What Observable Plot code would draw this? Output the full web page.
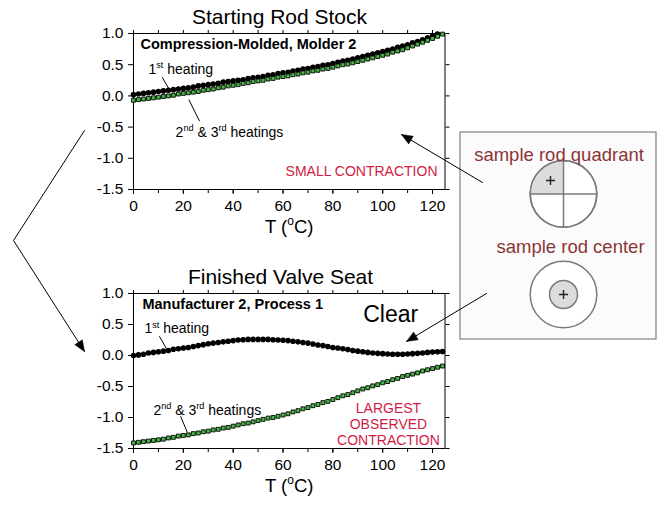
<!DOCTYPE html>
<html><head><meta charset="utf-8">
<script src="https://cdn.jsdelivr.net/npm/d3@7"></script>
<script src="https://cdn.jsdelivr.net/npm/@observablehq/plot@0.6"></script>
<style>
html,body{margin:0;padding:0;background:#fff;}
#wrap{position:relative;width:661px;height:508px;overflow:hidden;background:#fff;}
#wrap svg{position:absolute;left:0;}
</style></head><body><div id="wrap"></div>
<script>
// ---- data (temperature in °C, relative length change) ----
const temps = [0,2,4,6,8,10,12,14,16,18,20,22,24,26,28,30,32,34,36,38,40,42,44,46,48,50,52,54,56,58,60,62,64,66,68,70,72,74,76,78,80,82,84,86,88,90,92,94,96,98,100,102,104,106,108,110,112,114,116,118,120,122,124];

// Starting Rod Stock — 1st heating (T 0..122)
const rodFirst = [0.02,0.03,0.04,0.05,0.06,0.07,
  0.08,0.09,0.10,0.11,0.12, 0.13,0.14,0.16,0.17,0.18, 0.19,0.20,0.22,0.23,0.24,
  0.25,0.26,0.28,0.29,0.30, 0.31,0.33,0.34,0.36,0.37, 0.38,0.40,0.41,0.43,0.44,
  0.46,0.47,0.49,0.50,0.52, 0.54,0.56,0.57,0.59,0.61, 0.63,0.65,0.67,0.69,0.71,
  0.73,0.75,0.78,0.80,0.82, 0.85,0.87,0.90,0.93,0.96, 0.99];
// Starting Rod Stock — 2nd & 3rd heatings (T 0..124)
const rodLater = [-0.07,-0.06,-0.05,-0.04,-0.03,-0.02,
  -0.01,0.00,0.01,0.03,0.04, 0.05,0.06,0.07,0.09,0.10, 0.11,0.13,0.14,0.16,0.17,
  0.18,0.20,0.21,0.23,0.24, 0.25,0.27,0.28,0.30,0.31, 0.32,0.34,0.35,0.37,0.38,
  0.40,0.41,0.43,0.44,0.46, 0.48,0.50,0.51,0.53,0.55, 0.57,0.59,0.61,0.63,0.65,
  0.67,0.70,0.72,0.74,0.77, 0.80,0.83,0.86,0.89,0.92, 0.955,0.99];
// Finished Valve Seat — 1st heating (T 0..124)
const seatFirst = [0.00,0.01,0.02,0.04,0.05,0.06,
  0.07,0.08,0.10,0.11,0.12, 0.13,0.145,0.16,0.175,0.19, 0.20,0.21,0.22,0.23,0.24,
  0.25,0.255,0.26,0.26,0.26, 0.26,0.26,0.255,0.25,0.245, 0.24,0.23,0.22,0.21,0.20,
  0.185,0.17,0.16,0.145,0.13, 0.12,0.11,0.095,0.08,0.07, 0.06,0.05,0.04,0.035,0.03,
  0.025,0.02,0.02,0.02,0.025, 0.03,0.035,0.04,0.05,0.055, 0.06,0.065];
// Finished Valve Seat — 2nd & 3rd heatings (T 0..124)
const seatLater = [-1.41,-1.40,-1.39,-1.38,-1.37,-1.36,
  -1.35,-1.33,-1.32,-1.30,-1.29, -1.28,-1.26,-1.25,-1.23,-1.22, -1.20,-1.19,-1.17,-1.16,-1.14,
  -1.12,-1.10,-1.09,-1.07,-1.05, -1.03,-1.01,-1.00,-0.98,-0.96, -0.94,-0.91,-0.89,-0.86,-0.84,
  -0.81,-0.79,-0.76,-0.74,-0.71, -0.68,-0.65,-0.63,-0.60,-0.57, -0.54,-0.52,-0.49,-0.47,-0.44,
  -0.42,-0.39,-0.37,-0.34,-0.32, -0.30,-0.28,-0.25,-0.23,-0.21, -0.19,-0.17];

const yTicks = [-1.5,-1.0,-0.5,0.0,0.5,1.0];
const xMajor = [0,20,40,60,80,100,120];
const xMinor = [0,10,20,30,40,50,60,70,80,90,100,110,120];

const panelTitles = ["Starting Rod Stock","Finished Valve Seat"];
const axisLabel = "T (^{o}C)";
const boxLabels = ["sample rod quadrant","sample rod center"];

// ---- helpers ----
const NS = "http://www.w3.org/2000/svg";
function supify(svg){
  svg.querySelectorAll("text, tspan").forEach(el => {
    if (el.children.length) return;
    const s = el.textContent;
    if (!s.includes("^{")) return;
    el.textContent = "";
    const re = /\^\{([^}]*)\}/g; let last = 0, m, shifted = false;
    const add = (txt, sup) => {
      const t = document.createElementNS(NS, "tspan");
      t.textContent = txt;
      if (sup) { t.setAttribute("font-size", "65%"); t.setAttribute("dy", "-0.6em"); }
      else if (shifted) { t.setAttribute("dy", "0.39em"); }
      el.appendChild(t); shifted = sup;
    };
    while ((m = re.exec(s))) { if (m.index > last) add(s.slice(last, m.index), false); add(m[1], true); last = re.lastIndex; }
    if (last < s.length) add(s.slice(last), false);
  });
}
const FONT = "'Liberation Sans', Arial, Helvetica, sans-serif";
const GREEN = "#45b845";
const RED = "#d01c44";

function chart({first, firstT, later, height, marginBottom, labels, leaders}) {
  const firstData = first.map((v, i) => ({T: firstT[i], v}));
  const laterData = later.map((v, i) => ({T: temps[i], v}));
  return Plot.plot({
    width: 661, height,
    marginLeft: 133, marginRight: 216.5, marginTop: 33, marginBottom,
    style: {fontFamily: FONT, fontSize: "15.5px", color: "black", background: "transparent", overflow: "visible"},
    x: {domain: [0, 125], axis: null, label: null},
    y: {domain: [-1.5, 1.0], axis: null, label: null},
    marks: [
      Plot.frame({stroke: "black", strokeWidth: 1}),
      Plot.axisY({ticks: yTicks, tickFormat: d => d.toFixed(1), tickSize: 5, tickPadding: 5, label: null}),
      Plot.axisY({anchor: "right", ticks: yTicks, tickFormat: () => "", tickSize: 4, label: null}),
      Plot.axisX({ticks: xMinor, tickFormat: () => "", tickSize: 4, label: null}),
      Plot.axisX({ticks: xMajor, tickFormat: d => String(d), tickSize: 5, tickPadding: 5, label: null}),
      Plot.axisX({anchor: "top", ticks: xMinor, tickFormat: () => "", tickSize: 4, label: null}),
      Plot.text([axisLabel], {frameAnchor: "bottom", dy: 43, fontSize: 18.5}),
      Plot.dot(firstData, {x: "T", y: "v", r: 2.8, fill: "black"}),
      Plot.dot(laterData, {x: "T", y: "v", symbol: "square", r: 2.2, fill: GREEN, stroke: "black", strokeWidth: 0.9}),
      Plot.link(leaders, {x1: "x1", y1: "y1", x2: "x2", y2: "y2", stroke: "black", strokeWidth: 1}),
      ...labels.map(l => Plot.text([l], {x: "x", y: "y", text: "text", textAnchor: l.anchor,
        fontSize: l.size, fontWeight: l.weight || "normal", fill: l.color || "black", lineHeight: 1.15}))
    ]
  });
}

const wrap = document.getElementById("wrap");

const topChart = chart({
  first: rodFirst, firstT: temps, later: rodLater, height: 250, marginBottom: 61,
  labels: [
    {x: 2.8, y: 0.84, text: "Compression-Molded, Molder 2", anchor: "start", size: 14.5, weight: "bold"},
    {x: 6.0, y: 0.44, text: "1^{st} heating", anchor: "start", size: 14},
    {x: 16.9, y: -0.57, text: "2^{nd} & 3^{rd} heatings", anchor: "start", size: 14},
    {x: 122, y: -1.2, text: "SMALL CONTRACTION", anchor: "end", size: 14, color: RED}
  ],
  leaders: [
    {x1: 11.5, y1: 0.30, x2: 14.6, y2: 0.087},
    {x1: 22.2, y1: -0.058, x2: 26.5, y2: -0.405}
  ]
});
topChart.style.top = "0px";
wrap.appendChild(topChart);

const bottomChart = chart({
  first: seatFirst, firstT: temps, later: seatLater, height: 248, marginBottom: 60,
  labels: [
    {x: 3.6, y: 0.83, text: "Manufacturer 2, Process 1", anchor: "start", size: 14.5, weight: "bold"},
    {x: 92.2, y: 0.68, text: "Clear", anchor: "start", size: 23},
    {x: 4.4, y: 0.44, text: "1^{st} heating", anchor: "start", size: 14},
    {x: 8.0, y: -0.87, text: "2^{nd} & 3^{rd} heatings", anchor: "start", size: 14},
    {x: 102.3, y: -1.10, text: "LARGEST\nOBSERVED\nCONTRACTION", anchor: "middle", size: 14, color: RED}
  ],
  leaders: [
    {x1: 10.4, y1: 0.31, x2: 13.2, y2: 0.11},
    {x1: 18.9, y1: -0.98, x2: 21.6, y2: -1.24}
  ]
});
bottomChart.style.top = "260px";
wrap.appendChild(bottomChart);

// ---- overlay annotations (pixel space) ----
const arrows = [
  {id: "bracket", pts: [[84,130],[13,240],[84,351]]},
  {id: "small", pts: [[482,182],[401,134]]},
  {id: "clear", pts: [[486,293],[406,341]]}
];
const arrowLines = arrows.flatMap(a => a.pts.map(([x, y]) => ({id: a.id, x, y})));
const heads = arrows.flatMap(a => {
  const [tx, ty] = a.pts[a.pts.length - 1], [px, py] = a.pts[a.pts.length - 2];
  const L = Math.hypot(tx - px, ty - py), ux = (tx - px) / L, uy = (ty - py) / L;
  const hl = 11, hw = 4.5, bx = tx - ux * hl, by = ty - uy * hl;
  return [[tx, ty], [bx - uy * hw, by + ux * hw], [bx + uy * hw, by - ux * hw], [tx, ty]]
    .map(([x, y]) => ({id: a.id, x, y}));
});
const quarter = {draw(ctx, size) { const r = Math.sqrt(size / Math.PI); ctx.moveTo(0, 0); ctx.lineTo(-r, 0); ctx.arc(0, 0, r, Math.PI, 1.5 * Math.PI); ctx.closePath(); }};
const BROWN = "#8a3636";
const overlay = Plot.plot({
  width: 661, height: 508, margin: 0,
  style: {fontFamily: FONT, fontSize: "15px", color: "black", background: "transparent", overflow: "visible"},
  x: {domain: [0, 661], range: [0, 661], axis: null},
  y: {domain: [0, 508], range: [0, 508], axis: null},
  marks: [
    Plot.text([panelTitles[0]], {x: () => 279, y: () => 17, fontSize: 21}),
    Plot.text([panelTitles[1]], {x: () => 280, y: () => 277, fontSize: 21}),
    Plot.rect([0], {x1: () => 460, x2: () => 656, y1: () => 132, y2: () => 339, fill: "#fbfbfb", stroke: "#808080", strokeWidth: 1.2}),
    // quadrant sample
    Plot.dot([0], {x: () => 563, y: () => 193.5, r: 33.3, fill: "white", stroke: "#7a7a7a", strokeWidth: 1.5}),
    Plot.dot([0], {x: () => 563, y: () => 193.5, r: 33.3, symbol: quarter, fill: "#dcdcdc", stroke: "none"}),
    Plot.link([0, 1], {x1: i => i ? 529.7 : 563, x2: i => i ? 596.3 : 563, y1: i => i ? 193.5 : 160.2, y2: i => i ? 193.5 : 226.8, stroke: "#7a7a7a", strokeWidth: 1.5}),
    Plot.dot([0], {x: () => 563, y: () => 193.5, r: 33.3, fill: "none", stroke: "#7a7a7a", strokeWidth: 1.5}),
    Plot.dot([0], {x: () => 550, y: () => 180, r: 3, symbol: "plus", stroke: "#222", strokeWidth: 1.4}),
    // center sample
    Plot.dot([0], {x: () => 563, y: () => 294, r: 33.3, fill: "white", stroke: "#7a7a7a", strokeWidth: 1.5}),
    Plot.dot([0], {x: () => 563, y: () => 294, r: 14, fill: "#dcdcdc", stroke: "#7a7a7a", strokeWidth: 1.5}),
    Plot.dot([0], {x: () => 563, y: () => 294, r: 3, symbol: "plus", stroke: "#222", strokeWidth: 1.4}),
    Plot.text([boxLabels[0]], {x: () => 558.5, y: () => 155, fontSize: 18.5, fill: BROWN}),
    Plot.text([boxLabels[1]], {x: () => 570, y: () => 247, fontSize: 18.5, fill: BROWN}),
    // arrows
    Plot.line(arrowLines, {x: "x", y: "y", z: "id", stroke: "black", strokeWidth: 1}),
    Plot.line(heads, {x: "x", y: "y", z: "id", fill: "black", stroke: "black", strokeWidth: 0.5})
  ]
});
overlay.style.top = "0px";
overlay.style.pointerEvents = "none";
wrap.appendChild(overlay);

[topChart, bottomChart, overlay].forEach(supify);
</script>
</body></html>
